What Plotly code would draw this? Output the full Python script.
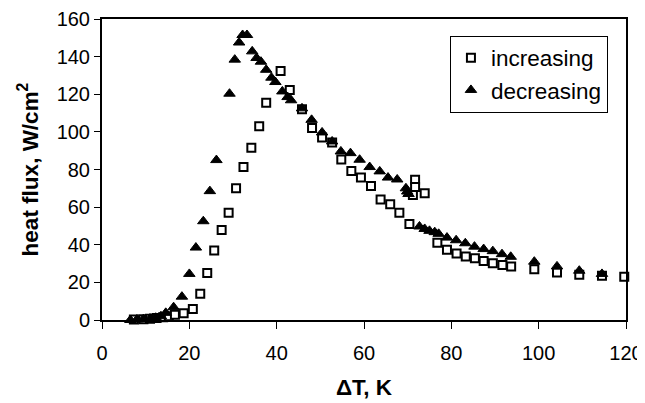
import plotly.graph_objects as go

# increasing heat-flux run (open squares)
inc_dT = [7.3, 9.5, 11.0, 12.5, 14.0, 15.3, 16.7, 18.7, 20.8, 22.5, 24.1, 25.7, 27.4, 29.0,
          30.7, 32.4, 34.2, 36.0, 37.6, 40.9, 43.0, 45.8, 48.1, 50.4, 52.7, 54.8, 57.1,
          59.3, 61.6, 63.8, 66.0, 68.1, 70.4, 71.2, 71.7, 71.7, 73.9, 76.8, 79.0, 81.2,
          83.3, 85.4, 87.4, 89.5, 91.7, 93.7, 99.0, 104.2, 109.3, 114.5, 119.6]
inc_q = [0.2, 0.4, 0.7, 1.0, 1.5, 2.0, 2.8, 3.6, 5.8, 14.0, 25.0, 37.0, 47.8, 57.0,
         70.0, 81.3, 91.5, 103.0, 115.5, 132.4, 122.3, 112.0, 102.0, 97.0, 94.3, 85.3, 79.2,
         75.7, 71.2, 64.0, 61.5, 57.0, 51.0, 66.5, 74.5, 70.7, 67.4, 41.0, 37.3, 35.3,
         33.7, 32.8, 31.4, 30.2, 29.3, 28.4, 27.0, 25.3, 24.0, 23.5, 23.0]

# decreasing heat-flux run (filled triangles)
dec_dT = [6.5, 8.0, 9.5, 11.0, 12.3, 13.5, 14.6, 16.4, 18.3, 20.0, 21.5, 23.2, 24.7, 26.2,
          29.2, 30.4, 31.4, 32.2, 33.2, 34.4, 35.4, 36.4, 37.6, 38.8, 39.7, 41.3, 42.5,
          43.3, 45.8, 48.0, 50.4, 52.7, 54.7, 56.9, 59.0, 61.3, 63.6, 65.5, 67.6, 69.6,
          69.9, 70.2, 72.7, 73.9, 75.0, 76.2, 77.1, 79.0, 81.1, 83.2, 85.3, 87.4, 89.5,
          91.6, 93.6, 99.0, 104.2, 109.3, 114.5]
dec_q = [0.0, 0.3, 0.5, 0.8, 1.2, 2.0, 3.8, 6.8, 12.4, 24.5, 38.5, 52.5, 68.5, 85.0,
         120.3, 138.4, 147.5, 151.5, 151.5, 142.8, 139.3, 137.3, 133.0, 128.8, 126.5, 121.5, 118.5,
         116.8, 112.5, 106.4, 99.7, 94.9, 89.6, 88.7, 85.2, 81.3, 79.0, 75.7, 74.7, 70.0,
         68.3, 67.0, 49.7, 48.4, 47.4, 46.7, 45.8, 43.8, 42.4, 40.8, 39.0, 37.7, 36.6,
         35.0, 33.6, 31.0, 28.5, 26.2, 24.5]

x_ticks = [0, 20, 40, 60, 80, 100, 120]
y_ticks = [0, 20, 40, 60, 80, 100, 120, 140, 160]

FONT = "Liberation Sans, Arial, sans-serif"

fig = go.Figure()
fig.add_trace(go.Scatter(
    x=inc_dT, y=inc_q, mode="markers", name="increasing",
    marker=dict(symbol="square", size=8, color="white",
                line=dict(color="black", width=2)),
    cliponaxis=False,
))
fig.add_trace(go.Scatter(
    x=dec_dT, y=dec_q, mode="markers", name="decreasing",
    marker=dict(symbol="triangle-up", size=10, color="black",
                line=dict(color="black", width=1)),
    cliponaxis=False,
))

# The page body adds an 8px offset; margins compensate so the plot area lands at
# x 101.5..626, y 19..320 in the browser window.
fig.update_layout(
    width=645, height=403,
    margin=dict(l=93.5, r=27, t=11, b=91, autoexpand=False),
    paper_bgcolor="white", plot_bgcolor="white",
    font=dict(family=FONT, size=20, color="black"),
    showlegend=True,
    legend=dict(
        x=0.664, y=0.945, xanchor="left", yanchor="top",
        bgcolor="white", bordercolor="black", borderwidth=1,
        font=dict(family=FONT, size=22.5, color="black"),
        itemwidth=30, tracegroupgap=0,
    ),
    xaxis=dict(
        range=[0, 120], tickvals=x_ticks, ticktext=[str(v) for v in x_ticks],
        showgrid=False, zeroline=False, automargin=False,
        showline=True, linecolor="black", linewidth=2, mirror=True,
        ticks="outside", ticklen=7, tickwidth=1, tickcolor="black",
        ticklabelstandoff=7, ticklabeloverflow="allow",
        tickfont=dict(family=FONT, size=20),
        title=dict(text="<b>ΔT, K</b>", font=dict(family=FONT, size=22.5), standoff=16),
    ),
    yaxis=dict(
        range=[0, 160], tickvals=y_ticks, ticktext=[str(v) for v in y_ticks],
        showgrid=False, zeroline=False, automargin=False,
        showline=True, linecolor="black", linewidth=2, mirror=True,
        ticks="outside", ticklen=6, tickwidth=1, tickcolor="black",
        tickfont=dict(family=FONT, size=20),
        title=dict(text="<b>heat flux, W/cm<sup>2</sup></b>", font=dict(family=FONT, size=22.5), standoff=12),
    ),
)

fig.write_html("out.html")
